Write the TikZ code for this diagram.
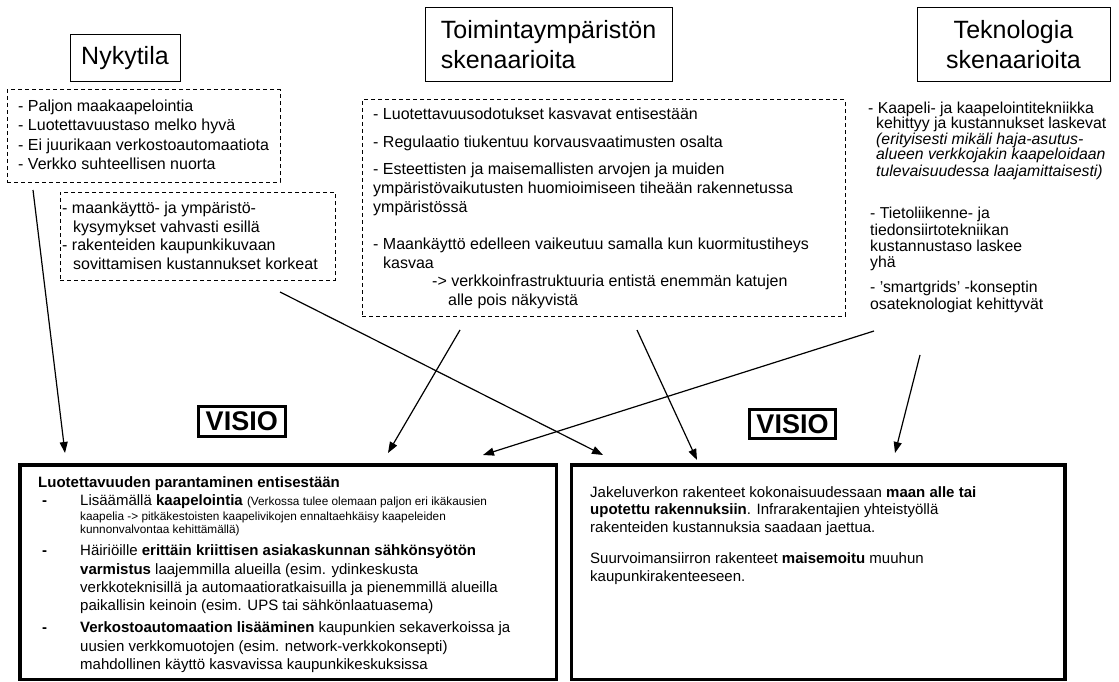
\documentclass[tikz,border=0pt]{standalone}
\usepackage{fontspec}
\setmainfont{Liberation Sans}
\usetikzlibrary{arrows.meta}

\tikzset{
  hdr/.style={draw, line width=1pt, inner sep=0pt, outer sep=0pt, font=\fontsize{25}{30}\selectfont},
  dbox/.style={draw, dash pattern=on 4pt off 3pt, line width=1pt, inner sep=0pt, outer sep=0pt, anchor=north west},
  vbox/.style={draw, line width=3.5pt, inner sep=0pt, outer sep=0pt, anchor=north west},
  visio/.style={draw, line width=3pt, inner sep=0pt, outer sep=0pt, font=\fontsize{27}{30}\selectfont\bfseries},
  tx/.style={anchor=base west, inner sep=0pt, font=\fontsize{16}{18}\selectfont},
  rt/.style={anchor=base west, inner sep=0pt, font=\fontsize{15.8}{16}\selectfont},
  bt/.style={anchor=base west, inner sep=0pt, font=\fontsize{15}{18}\selectfont},
  st/.style={anchor=base west, inner sep=0pt, font=\fontsize{11.8}{13}\selectfont},
  link/.style={line width=1.2pt, -{Triangle[length=11pt,width=8pt]}},
}
\newcommand{\smalltxt}{\fontsize{11.8}{13}\selectfont}

\begin{document}
\begin{tikzpicture}[x=1pt,y=-1pt]
\useasboundingbox (0,0) rectangle (1119,682);

% column headings
\node[hdr, minimum width=110, minimum height=47] (hNow) at (125,58.5) {Nykytila};
\node[hdr, minimum width=247, minimum height=74, align=left] (hEnv) at (548.5,45)
  {Toimintaympäristön\\skenaarioita};
\node[hdr, minimum width=193, minimum height=74, align=center] (hTech) at (1013.5,45)
  {Teknologia\\skenaarioita};

% present state
\node[dbox, minimum width=273, minimum height=92] (now) at (7,90) {};
\node[tx] (now1) at (18,111.5) {- Paljon maakaapelointia};
\node[tx] (now2) at (18,130.5) {- Luotettavuustaso melko hyvä};
\node[tx] (now3) at (18,150) {- Ei juurikaan verkostoautomaatiota};
\node[tx] (now4) at (18,169) {- Verkko suhteellisen nuorta};

\node[dbox, minimum width=275, minimum height=88] (land) at (60,192) {};
\node[tx] (land1) at (62,213.5) {- maankäyttö- ja ympäristö-};
\node[tx] (land2) at (73,232) {kysymykset vahvasti esillä};
\node[tx] (land3) at (62,250.5) {- rakenteiden kaupunkikuvaan};
\node[tx] (land4) at (73,269) {sovittamisen kustannukset korkeat};

% operating environment scenarios
\node[dbox, minimum width=483, minimum height=216] (env) at (362,100) {};
\node[tx] (env1) at (373,120) {- Luotettavuusodotukset kasvavat entisestään};
\node[tx] (env2) at (373,147.5) {- Regulaatio tiukentuu korvausvaatimusten osalta};
\node[tx] (env3) at (373,175) {- Esteettisten ja maisemallisten arvojen ja muiden};
\node[tx] (env4) at (373,193.6) {ympäristövaikutusten huomioimiseen tiheään rakennetussa};
\node[tx] (env5) at (373,212.2) {ympäristössä};
\node[tx] (env6) at (373,249.5) {- Maankäyttö edelleen vaikeutuu samalla kun kuormitustiheys};
\node[tx] (env7) at (383,268) {kasvaa};
\node[tx] (env8) at (432,286.6) {-> verkkoinfrastruktuuria entistä enemmän katujen};
\node[tx] (env9) at (448,305.2) {alle pois näkyvistä};

% technology scenarios
\node[rt] (tec1) at (868,113.3) {- Kaapeli- ja kaapelointitekniikka};
\node[rt] (tec2) at (876,129) {kehittyy ja kustannukset laskevat};
\node[rt] (tec3) at (876,144.3) {\itshape (erityisesti mikäli haja-asutus-};
\node[rt] (tec4) at (876,160) {\itshape alueen verkkojakin kaapeloidaan};
\node[rt] (tec5) at (876,176.7) {\itshape tulevaisuudessa laajamittaisesti)};
\node[rt] (tec6) at (870,218.3) {- Tietoliikenne- ja};
\node[rt] (tec7) at (870,235) {tiedonsiirtotekniikan};
\node[rt] (tec8) at (870,251.7) {kustannustaso laskee};
\node[rt] (tec9) at (870,267.3) {yhä};
\node[rt] (tec10) at (870,292.3) {- ’smartgrids’ -konseptin};
\node[rt] (tec11) at (870,309) {osateknologiat kehittyvät};

% vision labels
\node[visio, minimum width=86.5, minimum height=30] (vLabA) at (241.75,421.6) {VISIO};
\node[visio, minimum width=86, minimum height=29] (vLabB) at (792.5,424) {VISIO};

% vision: reliability
\node[vbox, minimum width=536.5, minimum height=214.5] (visA) at (20,465) {};
\node[bt] (a0) at (38,487) {\bfseries Luotettavuuden parantaminen entisestään};
\node[bt] (a1d) at (42,505) {\bfseries -};
\node[bt] (a1) at (80,505) {Lisäämällä \textbf{kaapelointia} {\smalltxt (Verkossa tulee olemaan paljon eri ikäkausien}};
\node[st] (a2) at (80,520) {kaapelia -> pitkäkestoisten kaapelivikojen ennaltaehkäisy kaapeleiden};
\node[st] (a3) at (80,533) {kunnonvalvontaa kehittämällä)};
\node[bt] (a4d) at (42,555) {\bfseries -};
\node[bt] (a4) at (80,555) {Häiriöille \textbf{erittäin kriittisen asiakaskunnan sähkönsyötön}};
\node[bt] (a5) at (80,574) {\textbf{varmistus} laajemmilla alueilla (esim. ydinkeskusta};
\node[bt] (a6) at (80,592.5) {verkkoteknisillä ja automaatioratkaisuilla ja pienemmillä alueilla};
\node[bt] (a7) at (80,610.5) {paikallisin keinoin (esim. UPS tai sähkönlaatuasema)};
\node[bt] (a8d) at (42,632) {\bfseries -};
\node[bt] (a8) at (80,632) {\textbf{Verkostoautomaation lisääminen} kaupunkien sekaverkoissa ja};
\node[bt] (a9) at (80,651) {uusien verkkomuotojen (esim. network-verkkokonsepti)};
\node[bt] (a10) at (80,669) {mahdollinen käyttö kasvavissa kaupunkikeskuksissa};

% vision: underground structures
\node[vbox, minimum width=493.5, minimum height=214.5] (visB) at (571.5,465) {};
\node[bt] (b1) at (590,497) {Jakeluverkon rakenteet kokonaisuudessaan \textbf{maan alle tai}};
\node[bt] (b2) at (590,514.5) {\textbf{upotettu rakennuksiin}. Infrarakentajien yhteistyöllä};
\node[bt] (b3) at (590,532) {rakenteiden kustannuksia saadaan jaettua.};
\node[bt] (b4) at (590,563) {Suurvoimansiirron rakenteet \textbf{maisemoitu} muuhun};
\node[bt] (b5) at (590,581) {kaupunkirakenteeseen.};

% connector end points
\coordinate (nowOut) at (33,190);
\coordinate (landOut) at (280,292);
\coordinate (envOutA) at (460,330);
\coordinate (envOutB) at (637,330);
\coordinate (tecOutA) at (874,331);
\coordinate (tecOutB) at (920,355);
\coordinate (visAin1) at (65,453);
\coordinate (visAin2) at (388,453);
\coordinate (visAin3) at (483,455);
\coordinate (visBin1) at (603,455);
\coordinate (visBin2) at (697,460);
\coordinate (visBin3) at (895,453);

\draw[link] (nowOut) -- (visAin1);
\draw[link] (landOut) -- (visBin1);
\draw[link] (envOutA) -- (visAin2);
\draw[link] (envOutB) -- (visBin2);
\draw[link] (tecOutA) -- (visAin3);
\draw[link] (tecOutB) -- (visBin3);
\end{tikzpicture}
\end{document}
